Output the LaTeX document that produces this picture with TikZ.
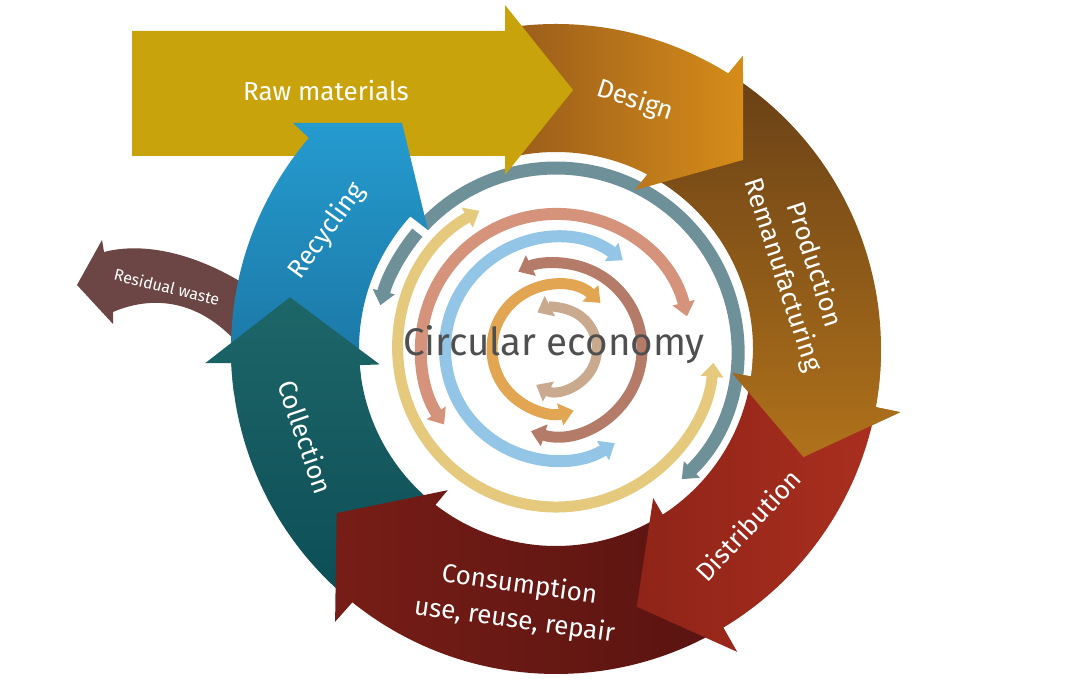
\documentclass[tikz,border=0pt]{standalone}
\usepackage{fontspec}
\setmainfont{Fira Sans}
\usetikzlibrary{arrows.meta}
\definecolor{rawc}{HTML}{C8A30C}
\definecolor{desA}{HTML}{9A5D1B}
\definecolor{desB}{HTML}{D68C19}
\definecolor{proA}{HTML}{6A4116}
\definecolor{proB}{HTML}{B0721B}
\definecolor{disA}{HTML}{8F2418}
\definecolor{disB}{HTML}{A92F1F}
\definecolor{conA}{HTML}{771D17}
\definecolor{conB}{HTML}{5A1411}
\definecolor{colA}{HTML}{1D6668}
\definecolor{colB}{HTML}{0D4E57}
\definecolor{recA}{HTML}{259BCF}
\definecolor{recB}{HTML}{1A73A0}
\definecolor{resc}{HTML}{6B4644}
\definecolor{grayr}{HTML}{6E9099}
\definecolor{yelr}{HTML}{E5CA7E}
\definecolor{salr}{HTML}{D5937B}
\definecolor{blur}{HTML}{93C6E6}
\definecolor{roser}{HTML}{B47C68}
\definecolor{oranr}{HTML}{E2A552}
\definecolor{tanr}{HTML}{C9AA8E}
\definecolor{txtc}{HTML}{4F4F4F}
\tikzset{
  ringst/.style={line width=11pt, >={Triangle[width=22pt,length=14pt]}},
  lbl/.style={text=white, font=\fontsize{26}{33}\selectfont, align=center, inner sep=0pt},
}
\def\prodpath{(56:325) arc[start angle=56, end angle=-10.3, radius=325] -- (-10.4:350) -- (-23.6:270) -- (-7.8:178) -- (-8:197) arc[start angle=-8, end angle=61, radius=197] -- cycle}
\begin{document}
\begin{tikzpicture}[x=1pt,y=1pt]
\useasboundingbox (0,0) rectangle (1071,686);
\fill[white] (0,0) rectangle (1071,686);

% residual waste arrow
\fill[resc] (104,434) .. controls (150,446) and (210,428) .. (262,390)
  -- (255,320) .. controls (210,388) and (155,392) .. (113,374)
  -- (113,362) -- (77,401) -- (102,446) -- cycle;

\begin{scope}[shift={(556,337)}]
  % inner rings
  \draw[ringst, grayr, line width=13pt, <-] (-46:181) arc[start angle=-46, end angle=137, radius=181];
  \draw[ringst, grayr, line width=13pt, ->] (140:181) arc[start angle=140, end angle=166, radius=181];
  \draw[ringst, yelr, <->] (119:158) arc[start angle=119, end angle=355, radius=158];
  \draw[ringst, salr, line width=12pt, <->] (14:135) arc[start angle=14, end angle=214, radius=135];
  \draw[ringst, blur, line width=12pt, <->] (53:111) arc[start angle=53, end angle=302, radius=111];
  \draw[ringst, roser, <->] (-107:86) arc[start angle=-107, end angle=116, radius=86];
  \draw[ringst, oranr, <->] (46:64) arc[start angle=46, end angle=286, radius=64];
  \draw[ringst, tanr, line width=10pt, <->] (-119:41) arc[start angle=-119, end angle=117, radius=41];

  % production
  \shade[top color=proA, bottom color=proB] \prodpath;
  % design
  \shade[left color=desA, right color=desB]
    (97:325) arc[start angle=97, end angle=58, radius=325] -- (57.5:348) -- (45.3:266)
    -- (63.6:177.5) -- (62.4:197) arc[start angle=62.4, end angle=103, radius=197] -- cycle;
\end{scope}

% raw materials
\fill[rawc] (132,655) -- (505,655) -- (505,681) -- (573,596) -- (505,511) -- (505,530) -- (132,530) -- cycle;

\begin{scope}[shift={(556,337)}]
  % recycling
  \shade[top color=recA, bottom color=recB]
    (188:325) arc[start angle=188, end angle=139.5, radius=325] -- (-263,226) -- (-154,226)
    -- (-128,119) -- (137.7:197) arc[start angle=137.7, end angle=188, radius=197] -- cycle;
  % collection
  \shade[top color=colA, bottom color=colB]
    (229:325) arc[start angle=229, end angle=182.5, radius=325] -- (182.3:351) -- (169:271)
    -- (185:177) -- (184.7:197) arc[start angle=184.7, end angle=229.5, radius=197] -- cycle;
  % consumption
  \shade[left color=conA, right color=conB]
    (298:325) arc[start angle=298, end angle=231.2, radius=325] -- (231:351) -- (216.8:274)
    -- (232.5:178) -- (232.3:197) arc[start angle=232.3, end angle=300, radius=197] -- cycle;
  % distribution
  \shade[left color=disA, right color=disB]
    (-13:325) arc[start angle=-13, end angle=-59, radius=325] -- (-59.1:353) -- (-72.6:270)
    -- (-56.9:178) -- (-57.2:197) arc[start angle=-57.2, end angle=-10, radius=197] -- cycle;
  % production head on top of distribution
  \begin{scope}
    \clip (-2:370) -- (-2:160) -- (-34:160) -- (-34:370) -- cycle;
    \shade[top color=proA, bottom color=proB] \prodpath;
  \end{scope}
\end{scope}

% labels
\node[lbl] (rawt) at (326,595) {Raw materials};
\node[lbl, rotate=-18] (dest) at (635,585) {Design};
\node[lbl, rotate=-72] (prot) at (798,416) {Production\\Remanufacturing};
\node[lbl, rotate=47] (dist) at (748,161) {Distribution};
\node[lbl, rotate=-8, font=\fontsize{26}{36}\selectfont] (cont) at (517,83) {Consumption\\use, reuse, repair};
\node[lbl, rotate=-71] (colt) at (306,249) {Collection};
\node[lbl, rotate=54] (rect) at (327,455) {Recycling};
\node[lbl, rotate=-14, font=\fontsize{16}{19}\selectfont] (rest) at (167,399) {Residual waste};
\node[text=txtc, font=\fontsize{38.5}{46}\selectfont, inner sep=0pt] (circ) at (554,341) {Circular economy};
\end{tikzpicture}
\end{document}
